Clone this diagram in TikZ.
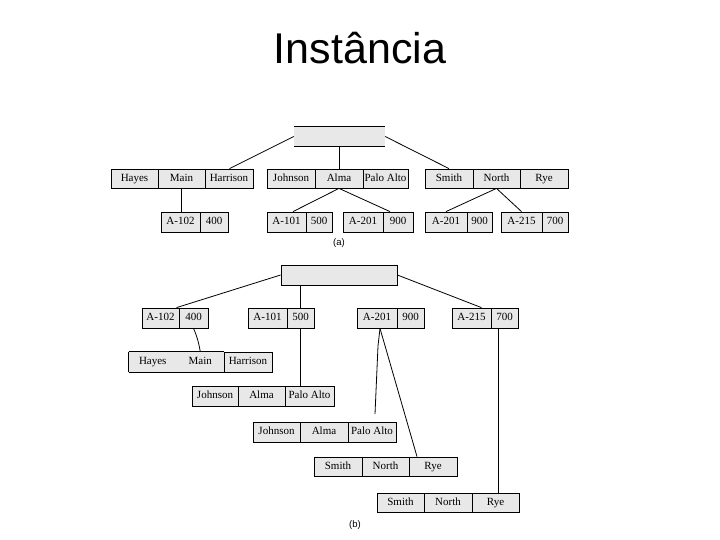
\documentclass[tikz,border=0pt]{standalone}
\usepackage{fontspec}
\setmainfont{Liberation Serif}
\newfontfamily\titlefont{Liberation Sans}
\usetikzlibrary{calc}
\definecolor{cellgray}{RGB}{232,232,232}
\begin{document}
\begin{tikzpicture}[x=1pt,y=-1pt,
  cell/.style={draw, fill=cellgray, line width=0.8pt, inner sep=0pt,
    font=\fontsize{11}{13}\selectfont, text height=7.5pt, text depth=2pt},
  fillcell/.style={cell, draw=none},
  rootbox/.style={fill=cellgray, inner sep=0pt},
  link/.style={line width=0.8pt},
  caption/.style={font=\titlefont\fontsize{9.5}{11}\selectfont}]
\useasboundingbox (0,0) rectangle (720,540);
\node[font=\titlefont\fontsize{43}{50}\selectfont, anchor=base] (title) at (360,64) {Instância};

% ---------------- (a) ----------------
\node[rootbox, minimum width=91pt, minimum height=19pt] (rootA) at (339.5,136.5) {};
\draw[link] (rootA.north west) -- (rootA.north east);
\draw[link] (rootA.south west) -- (rootA.south east);

\node[cell, minimum width=47pt, minimum height=19pt] (aHayes) at (134.5,178.5) {Hayes};
\node[cell, minimum width=47pt, minimum height=19pt] (aMain) at (181.5,178.5) {Main};
\node[cell, minimum width=48pt, minimum height=19pt] (aHarrison) at (229,178.5) {Harrison};

\node[cell, minimum width=48pt, minimum height=19pt] (aJohnson) at (291,178.5) {Johnson};
\node[cell, minimum width=48pt, minimum height=19pt] (aAlma) at (339,178.5) {Alma};
\node[cell, minimum width=45pt, minimum height=19pt] (aPalo) at (385.5,178.5) {Palo Alto};

\node[cell, minimum width=48pt, minimum height=19pt] (aSmith) at (449,178.5) {Smith};
\node[cell, minimum width=47pt, minimum height=19pt] (aNorth) at (496.5,178.5) {North};
\node[cell, minimum width=48pt, minimum height=19pt] (aRye) at (544,178.5) {Rye};

\node[cell, minimum width=39pt, minimum height=20pt] (aA102) at (180.5,222) {A-102};
\node[cell, minimum width=28pt, minimum height=20pt] (a400) at (214,222) {400};
\node[cell, minimum width=39pt, minimum height=20pt] (aA101) at (286.5,222) {A-101};
\node[cell, minimum width=26pt, minimum height=20pt] (a500) at (319,222) {500};
\node[cell, minimum width=40pt, minimum height=20pt] (aA201) at (363,222) {A-201};
\node[cell, minimum width=30pt, minimum height=20pt] (a900) at (398,222) {900};
\node[cell, minimum width=42pt, minimum height=20pt] (aA201b) at (446,222) {A-201};
\node[cell, minimum width=25pt, minimum height=20pt] (a900b) at (479.5,222) {900};
\node[cell, minimum width=41pt, minimum height=20pt] (aA215) at (521.5,222) {A-215};
\node[cell, minimum width=26pt, minimum height=20pt] (a700) at (555,222) {700};

\draw[link] (rootA.west) -- ([xshift=0.5pt]aHarrison.north);
\draw[link] (rootA.south -| aAlma.north) -- (aAlma.north);
\draw[link] (rootA.east) -- (aSmith.north);
\draw[link] (aMain.south) -- (aMain.south |- aA102.north);
\draw[link] (aAlma.south) -- ([xshift=6.5pt]aA101.north);
\draw[link] (aAlma.south) -- ([xshift=-8pt]a900.north);
\draw[link] (aNorth.south) -- (aA201b.north);
\draw[link] (aNorth.south) -- (aA215.north);

\node[caption] (capA) at (339,243) {(a)};

% ---------------- (b) ----------------
\node[cell, minimum width=116pt, minimum height=20pt] (rootB) at (339,275) {};

\node[cell, minimum width=37pt, minimum height=20pt] (bA102) at (160.5,318) {A-102};
\node[cell, minimum width=29pt, minimum height=20pt] (b400) at (193.5,318) {400};
\node[cell, minimum width=39pt, minimum height=20pt] (bA101) at (267.5,318) {A-101};
\node[cell, minimum width=27pt, minimum height=20pt] (b500) at (300.5,318) {500};
\node[cell, minimum width=40pt, minimum height=20pt] (bA201) at (377,318) {A-201};
\node[cell, minimum width=27pt, minimum height=20pt] (b900) at (410.5,318) {900};
\node[cell, minimum width=39pt, minimum height=20pt] (bA215) at (471.5,318) {A-215};
\node[cell, minimum width=27pt, minimum height=20pt] (b700) at (504.5,318) {700};

% Hayes row (no separator between Hayes and Main)
\node[fillcell, minimum width=47.5pt, minimum height=20pt] (bHayes) at (152.75,362) {Hayes};
\node[fillcell, minimum width=47.5pt, minimum height=20pt] (bMain) at (200.25,362) {Main};
\node[cell, minimum width=48pt, minimum height=20pt] (bHarrison) at (248,362) {Harrison};
\draw[link] (bHayes.north west) -- (bMain.north east);
\draw[link] (bHayes.south west) -- (bMain.south east);
\draw[link] (bHayes.north west) -- (bHayes.south west);

\node[cell, minimum width=46pt, minimum height=20pt] (bJohnson1) at (215,396) {Johnson};
\node[cell, minimum width=47pt, minimum height=20pt] (bAlma1) at (261.5,396) {Alma};
\node[cell, minimum width=49pt, minimum height=20pt] (bPalo1) at (309.5,396) {Palo Alto};

\node[cell, minimum width=47pt, minimum height=20pt] (bJohnson2) at (276.5,432) {Johnson};
\node[cell, minimum width=48pt, minimum height=20pt] (bAlma2) at (324,432) {Alma};
\node[cell, minimum width=48pt, minimum height=20pt] (bPalo2) at (372,432) {Palo Alto};

\node[cell, minimum width=48pt, minimum height=19pt] (bSmith1) at (338,466.5) {Smith};
\node[cell, minimum width=47pt, minimum height=19pt] (bNorth1) at (385.5,466.5) {North};
\node[cell, minimum width=48pt, minimum height=19pt] (bRye1) at (433,466.5) {Rye};

\node[cell, minimum width=47pt, minimum height=19pt] (bSmith2) at (400.5,502.5) {Smith};
\node[cell, minimum width=48pt, minimum height=19pt] (bNorth2) at (448,502.5) {North};
\node[cell, minimum width=47pt, minimum height=19pt] (bRye2) at (495.5,502.5) {Rye};

\coordinate (bEnd) at (375,414);

\draw[link] (rootB.west) -- ([xshift=-2pt]b400.north west);
\draw[link] (b500.north |- rootB.south) -- (b500.north);
\draw[link] (rootB.east) -- ($(bA215.north)!0.5!(bA215.north east)$);
\draw[link] (b400.south) .. controls (197,336) and (199,344) .. (bMain.north);
\draw[link] (b500.south) -- (b500.south |- bPalo1.north);
\draw[link] ([xshift=3pt]bA201.south) -- (378,346) -- (bEnd);
\draw[link] ([xshift=3pt]bA201.south) -- ([xshift=-16pt]bRye1.north);
\draw[link] ([xshift=-6.5pt]b700.south) -- ([xshift=-6.5pt]b700.south |- bRye2.north);

\node[caption] (capB) at (355,525) {(b)};
\end{tikzpicture}
\end{document}
